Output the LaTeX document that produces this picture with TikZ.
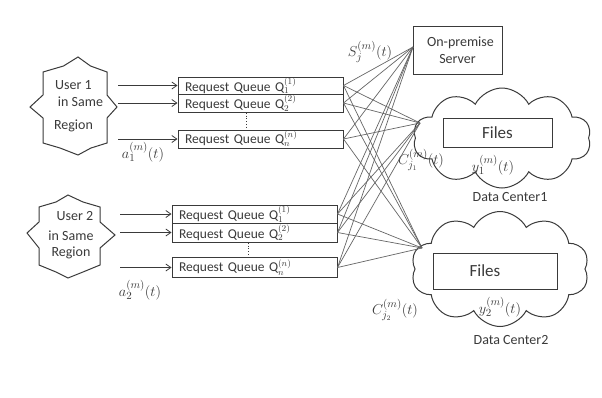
\documentclass[tikz,border=0pt]{standalone}
\usepackage{fontspec}
\setmainfont{Carlito}
\usetikzlibrary{shapes.symbols,arrows.meta}
\definecolor{ink}{HTML}{3A3A3A}
\definecolor{wire}{HTML}{666666}
\begin{document}
\begin{tikzpicture}[x=1pt,y=-1pt,
  pencil/.style={draw=ink, line width=1pt},
  wirelink/.style={draw=wire, line width=0.7pt},
  arr/.style={draw=ink, line width=0.8pt, -{Straight Barb[length=5pt,width=7pt]}},
  txt/.style={text=ink, font=\fontsize{15}{17}\selectfont, inner sep=0pt},
  qbox/.style={pencil, text=ink, font=\fontsize{13.5}{15}\selectfont, minimum width=165pt,
     text width=151pt, align=left, inner xsep=7pt, inner ysep=0pt},
  usr/.style={text=ink, font=\fontsize{14}{16}\selectfont, align=center, inner sep=0pt},
  dc/.style={cloud, cloud puffs=10, cloud puff arc=125, cloud ignores aspect, pencil},
  filebox/.style={pencil, text=ink, font=\fontsize{17}{19}\selectfont}
]
\useasboundingbox[fill=white] (0,0) rectangle (602,397);

% ---- User 1 star
\begin{scope}[shift={(73.5,106)}]
\draw[pencil] (4.5,-49) -- (17,-40) -- (33.5,-34) -- (33.5,-11) -- (43.5,1) -- (33.5,12)
  -- (33.5,37) -- (17.5,42) -- (4.5,49) -- (-13.5,42) -- (-30.5,37) -- (-30.5,12)
  -- (-43.5,1) -- (-30.5,-11) -- (-30.5,-34) -- (-10,-40) -- cycle;
\end{scope}
\node[usr, minimum width=89pt] (u1) at (73.5,106) {User 1\\[1pt]\hspace*{14pt}in Same\\[7pt]Region};

% ---- User 2 star
\begin{scope}[shift={(71,236)}]
\draw[pencil] (-3,-41) -- (12,-34) -- (29,-29) -- (29,-14) -- (44,-1) -- (29,12)
  -- (29,29) -- (12,36) -- (-3,42) -- (-15,36) -- (-32,29) -- (-32,12)
  -- (-44,-3) -- (-32,-14) -- (-32,-29) -- (-15,-34) -- cycle;
\end{scope}
\node[usr, minimum width=98pt] (u2) at (71,235) {\hspace*{8pt}User 2\\[4pt]in Same\\[0pt]Region};

% ---- Request queues, region 1
\node[qbox, minimum height=17pt] (q11) at (260.5,85.5) {Request Queue Q$_1^{(1)}$};
\node[qbox, minimum height=18pt] (q12) at (260.5,103) {Request Queue Q$_2^{(2)}$};
\node[qbox, minimum height=18pt] (q13) at (260.5,139) {Request Queue Q$_n^{(n)}$};
\coordinate (d1a) at (246,113);
\coordinate (d1b) at (246,129);
\draw[draw=ink, line width=0.7pt, dotted] (d1a) -- (d1b);

% ---- Request queues, region 2
\node[qbox, minimum height=18pt] (q21) at (254.5,214) {Request Queue Q$_1^{(1)}$};
\node[qbox, minimum height=19pt] (q22) at (254.5,232.5) {Request Queue Q$_2^{(2)}$};
\node[qbox, minimum height=20pt] (q23) at (254.5,267.5) {Request Queue Q$_n^{(n)}$};
\coordinate (d2a) at (248,243);
\coordinate (d2b) at (248,256);
\draw[draw=ink, line width=0.7pt, dotted] (d2a) -- (d2b);

% ---- arrows users -> queues
\draw[arr] (q11.west -| u1.east) -- (q11.west);
\draw[arr] (q12.west -| u1.east) -- (q12.west);
\draw[arr] (q13.west -| u1.east) -- (q13.west);
\draw[arr] (q21.west -| u2.east) -- (q21.west);
\draw[arr] (q22.west -| u2.east) -- (q22.west);
\draw[arr] (q23.west -| u2.east) -- (q23.west);

\node[txt] (a1) at (143,152) {$a_1^{(m)}(t)$};
\node[txt] (a2) at (140,290) {$a_2^{(m)}(t)$};

% ---- server
\node[pencil, text=ink, font=\fontsize{14}{17}\selectfont, align=center,
  minimum width=89pt, minimum height=48pt] (srv) at (457.5,50) {\hspace*{6pt}On-premise\\Server};

% ---- data centres
\node[dc, minimum width=178pt, minimum height=100pt] (dc1) at (502,138) {};
\node[filebox, minimum width=109pt, minimum height=29pt] (f1) at (497.5,132.5) {Files};
\node[dc, minimum width=178pt, minimum height=115pt] (dc2) at (500,269) {};
\node[filebox, minimum width=124pt, minimum height=36pt] (f2) at (495,271) {Files\hspace*{20pt}};

\node[txt] (y1) at (493,165) {$y_1^{(m)}(t)$};
\node[txt] (y2) at (500,307) {$y_2^{(m)}(t)$};
\node[txt, font=\fontsize{14}{16}\selectfont] (n1) at (510,197) {Data Center1};
\node[txt, font=\fontsize{14}{16}\selectfont] (n2) at (511,340) {Data Center2};
\node[txt] (sj) at (370,52) {$S_j^{(m)}(t)$};
\node[txt] (cj1) at (421,160) {$C_{j_1}^{(m)}(t)$};
\node[txt] (cj2) at (395,310) {$C_{j_2}^{(m)}(t)$};

% ---- links
\coordinate (srvin) at (413,47);
\coordinate (dc1in) at (420,123);
\coordinate (dc2in) at (422,248);
\foreach \q in {q11,q12,q13,q21,q22,q23}{
  \draw[wirelink] (\q.east) -- (srvin);
  \draw[wirelink] (\q.east) -- (dc1in);
  \draw[wirelink] (\q.east) -- (dc2in);
}
\end{tikzpicture}
\end{document}
